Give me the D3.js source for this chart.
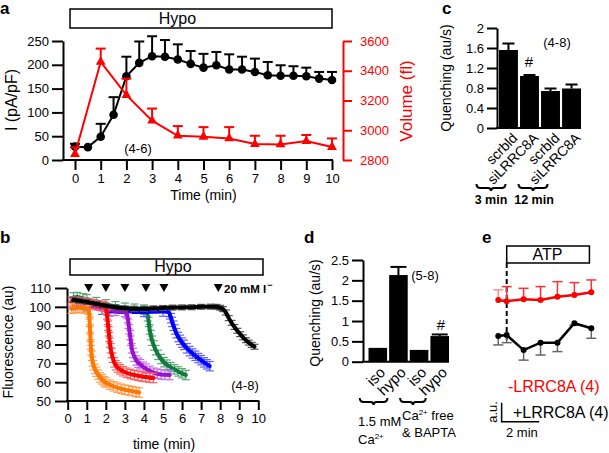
<!DOCTYPE html>
<html><head><meta charset="utf-8">
<script src="https://cdn.jsdelivr.net/npm/d3@7"></script>
<style>
body{margin:0;background:#fff;}
svg{display:block;font-family:"Liberation Sans",Arial,Helvetica,sans-serif;}
</style></head><body>
<svg id="fig" width="609" height="453"></svg>
<script>
// ---------- Panel a data ----------
const timeA = [0,0.5,1,1.5,2,2.5,3,3.5,4,4.5,5,5.5,6,6.5,7,7.5,8,8.5,9,9.5,10];
const currentA = [28,27,49,95,176,204,218,217,211,202,194,199,190,190,185,178,177,177,176,171,168];
const currentErrA = [6,0,27,37,41,45,42,35,32,27,29,28,32,27,28,28,22,20,18,14,17];
const volTimeA = [0,1,2,3,4,5,6,7,8,9,10];
const volumeA = [2840,3459,3236,3064,2963,2956,2945,2907,2905,2927,2887];
const volumeErrA = [45,90,111,82,65,65,76,56,58,41,58];
const currentTicksA = [0,50,100,150,200,250];
const volumeTicksA = [2800,3000,3200,3400,3600];
const timeTicksA = [0,1,2,3,4,5,6,7,8,9,10];

// ---------- Panel b data ----------
const orangeT = [0.2,0.3,0.4,0.5,0.6,0.7,0.8,0.9,1.0,1.05,1.1,1.13,1.15,1.17,1.19,1.21,1.23,1.26,1.3,1.35,1.42,1.5,1.6,1.7,1.8,1.9,2.0,2.2,2.4,2.6,2.8,3.0,3.2,3.4,3.6,3.75];
const orangeV = [99,99.2,99.4,99.5,99.5,99.4,99.3,99.2,99,98.8,98.5,96,92,88,84,80,77,74,71,69,67,65.5,64,62.5,61.5,60.5,59.8,58.7,57.8,57.1,56.5,56,55.6,55.2,54.8,54.5];
const redT = [0.2,0.4,0.6,0.8,1.0,1.2,1.4,1.6,1.8,1.95,2.02,2.06,2.09,2.12,2.15,2.18,2.21,2.25,2.3,2.36,2.44,2.52,2.62,2.75,2.9,3.1,3.3,3.5,3.7,3.9,4.1,4.3,4.5];
const redV = [102.8,102.7,102.5,102.3,102,101.6,101.2,100.8,100.4,100,98.5,96,93,90,87,84,81,78,75.5,73,70.5,69,67.8,66.8,65.8,65,64.3,63.8,63.4,63,62.7,62.4,62.2];
const purpleT = [0.3,1.0,2.0,2.5,3.0,3.1,3.15,3.19,3.23,3.27,3.31,3.36,3.42,3.5,3.6,3.7,3.8,3.95,4.1,4.3,4.5,4.7,4.9,5.1,5.35];
const purpleV = [101,100,98.5,97.8,97.3,96.5,94,91,88,85,82,78,75.5,73.5,71.5,70.3,69.5,68.2,67.2,66,65,64.5,64.1,63.9,63.8];
const greenT = [0.3,0.5,0.8,1.0,1.5,2.0,2.5,3.0,3.5,4.0,4.15,4.2,4.25,4.3,4.36,4.43,4.52,4.62,4.75,4.9,5.05,5.2,5.4,5.6,5.8,6.0,6.2];
const greenV = [105,105.2,104.5,104,102.5,101.3,100.3,99.5,99,98.5,97.5,95,92,88,85,82,79.5,77,74.5,72.3,70.6,69.3,68,66.8,65.7,64.7,63.8];
const blueT = [0.3,1.0,1.8,2.2,3.0,4.0,5.0,5.3,5.36,5.42,5.48,5.55,5.62,5.7,5.8,5.9,6.0,6.1,6.25,6.4,6.55,6.7,6.85,7.0,7.15,7.3,7.45];
const blueV = [102,100.5,98.5,97.6,97.3,97.3,97.5,97.3,96,94,92,90,88,86,84,82.5,81,79.8,78,76.5,75.2,74,72.8,71.7,70.5,69.5,68.5];
const blackT = [0.3,0.6,1.0,1.5,2.0,2.5,3.0,3.5,4.0,4.5,5.0,5.5,6.0,6.5,7.0,7.5,7.8,8.0,8.15,8.3,8.45,8.6,8.75,8.9,9.05,9.2,9.35,9.5,9.65,9.8];
const blackV = [103.8,103.2,102.6,101.6,100.6,99.8,99.2,99,99,99.2,99.4,99.6,99.7,99.8,100,100.1,100,99.5,98.8,97,94,91.5,89.3,87.3,85.5,83.8,82.3,81,79.8,78.8];
const curveErrB = [2.5,2.5,2.5,2.5,2.5,1.3];
const iodideTimesB = [1.1,2.0,3.0,4.1,5.05,7.9];
const fluorTicksB = [50,60,70,80,90,100,110];
const timeTicksB = [0,1,2,3,4,5,6,7,8,9,10];

// ---------- Panel c data ----------
const catsC = ["scrbld","siLRRC8A","scrbld ","siLRRC8A "];
const quenchC = [1.56,1.04,0.74,0.79];
const quenchErrC = [0.13,0.02,0.05,0.08];
const ticksC = [0,0.4,0.8,1.2,1.6,2];

// ---------- Panel d data ----------
const catsD = ["iso","hypo","iso ","hypo "];
const quenchD = [0.34,2.13,0.29,0.63];
const quenchErrD = [0.02,0.2,0.01,0.04];
const ticksD = [0,0.5,1,1.5,2,2.5];

// ---------- Panel e data ----------
const timeE = [-0.45,0,0.9,1.8,2.7,3.6,4.5];
const minusE = [6.41,6.34,6.44,6.41,6.58,6.67,6.81];
const minusErrE = [0.53,0.77,0.58,0.70,0.79,0.65,0.65];
const plusE = [4.51,4.56,3.77,4.16,4.16,5.18,4.92];
const plusErrE = [0.47,0.40,0.53,0.65,0.47,0.1,0.53];

const svg = d3.select("#fig");
svg.append("rect").attr("width",609).attr("height",453).attr("fill","#fff");
const FONT = '"Liberation Sans",Arial,Helvetica,sans-serif';

function styleAxis(g, color, size){
  g.attr("font-size", size||13).attr("font-family", FONT).attr("color", color||"#000");
  g.selectAll(".domain").attr("stroke-width",2);
  g.selectAll(".tick line").attr("stroke-width",2);
  return g;
}
function label(g,x,y,txt,opt){
  opt = opt||{};
  const t = g.append("text").attr("x",x).attr("y",y).text(txt)
    .attr("font-size",opt.size||13).attr("fill",opt.fill||"#000")
    .attr("text-anchor",opt.anchor||"start");
  if(opt.bold) t.attr("font-weight","bold");
  if(opt.rot!==undefined) t.attr("transform",`rotate(${opt.rot},${x},${y})`);
  return t;
}
function brace(g,x0,x1,y){
  const m=(x0+x1)/2;
  g.append("path").attr("fill","none").attr("stroke","#000").attr("stroke-width",2)
   .attr("d",`M${x0},${y-4} Q${x0},${y} ${x0+4},${y} L${m-3},${y} Q${m},${y} ${m},${y+3} Q${m},${y} ${m+3},${y} L${x1-4},${y} Q${x1},${y} ${x1},${y-4}`);
}
const fmt = d => String(d);

// ================= Panel a =================
{
const g = svg.append("g");
const xA = d3.scaleLinear().domain([0,10]).range([75,332]);
const yA = d3.scaleLinear().domain([0,250]).range([160,41]);
const yV = d3.scaleLinear().domain([2800,3600]).range([160,41]);
label(g,0,14,"a",{bold:true,size:17});
g.append("rect").attr("x",70).attr("y",9).attr("width",262).attr("height",19).attr("fill","#fff").attr("stroke","#000").attr("stroke-width",1.5);
label(g,177.5,24,"Hypo",{size:16,anchor:"middle"});

styleAxis(g.append("g").attr("transform","translate(63,0)")
  .call(d3.axisLeft(yA).tickValues(currentTicksA).tickFormat(fmt).tickSize(11).tickPadding(3).tickSizeOuter(0)));
const xg = styleAxis(g.append("g").attr("transform","translate(0,160)")
  .call(d3.axisBottom(xA).tickValues(timeTicksA).tickFormat(fmt).tickSize(10).tickPadding(4).tickSizeOuter(0)));
xg.select(".domain").remove();
g.append("line").attr("x1",62).attr("x2",xA(10)+1).attr("y1",160).attr("y2",160).attr("stroke","#000").attr("stroke-width",2);
styleAxis(g.append("g").attr("transform","translate(343,0)")
  .call(d3.axisRight(yV).tickValues(volumeTicksA).tickFormat(fmt).tickSize(9).tickPadding(8).tickSizeOuter(0)),"#f00");

label(g,17,100,"I (pA/pF)",{size:16,anchor:"middle",rot:-90});
label(g,412,101,"Volume (fl)",{size:17,anchor:"middle",rot:-90,fill:"#f00"});
label(g,203.5,200,"Time (min)",{size:14,anchor:"middle"});
label(g,138,153,"(4-6)",{size:13,anchor:"middle"});

// black current series
const cur = timeA.map((t,i)=>({t,v:currentA[i],e:currentErrA[i]}));
const eb = g.append("g").attr("stroke","#000").attr("stroke-width",2);
cur.forEach(d=>{ if(d.e>0){
  eb.append("line").attr("x1",xA(d.t)).attr("x2",xA(d.t)).attr("y1",yA(d.v)).attr("y2",yA(d.v+d.e));
  eb.append("line").attr("x1",xA(d.t)-5).attr("x2",xA(d.t)+5).attr("y1",yA(d.v+d.e)).attr("y2",yA(d.v+d.e));
}});
g.append("path").datum(cur).attr("fill","none").attr("stroke","#000").attr("stroke-width",2)
  .attr("d",d3.line().x(d=>xA(d.t)).y(d=>yA(d.v)));
g.selectAll(".cdot").data(cur).join("circle").attr("cx",d=>xA(d.t)).attr("cy",d=>yA(d.v)).attr("r",4.3).attr("fill","#000");

// red volume series
const vol = volTimeA.map((t,i)=>({t,v:volumeA[i],e:volumeErrA[i]}));
const rb = g.append("g").attr("stroke","#f00").attr("stroke-width",2);
vol.forEach(d=>{
  rb.append("line").attr("x1",xA(d.t)).attr("x2",xA(d.t)).attr("y1",yV(d.v)).attr("y2",yV(d.v+d.e));
  rb.append("line").attr("x1",xA(d.t)-5).attr("x2",xA(d.t)+5).attr("y1",yV(d.v+d.e)).attr("y2",yV(d.v+d.e));
});
g.append("path").datum(vol).attr("fill","none").attr("stroke","#f00").attr("stroke-width",2)
  .attr("d",d3.line().x(d=>xA(d.t)).y(d=>yV(d.v)));
g.selectAll(".vtri").data(vol).join("path").attr("fill","#f00")
  .attr("transform",d=>`translate(${xA(d.t)},${yV(d.v)})`)
  .attr("d",d3.symbol(d3.symbolTriangle,42));
}

// ================= Panel b =================
{
const g = svg.append("g");
const xB = d3.scaleLinear().domain([0,10]).range([67.7,258.3]);
const yB = d3.scaleLinear().domain([50,110]).range([401,288]);
label(g,0,243,"b",{bold:true,size:17});
g.append("rect").attr("x",70).attr("y",259).attr("width",193).attr("height",16).attr("fill","#fff").attr("stroke","#000").attr("stroke-width",1.5);
label(g,173,272,"Hypo",{size:16,anchor:"middle"});

styleAxis(g.append("g").attr("transform","translate(67,0)")
  .call(d3.axisLeft(yB).tickValues(fluorTicksB).tickFormat(fmt).tickSize(12).tickPadding(4).tickSizeOuter(0)));
const xg = styleAxis(g.append("g").attr("transform","translate(0,401)")
  .call(d3.axisBottom(xB).tickValues(timeTicksB).tickFormat(fmt).tickSize(9).tickPadding(4).tickSizeOuter(0)));
xg.select(".domain").remove();
g.append("line").attr("x1",66).attr("x2",xB(10)+1).attr("y1",401).attr("y2",401).attr("stroke","#000").attr("stroke-width",2);

label(g,13,342,"Fluorescence (au)",{size:14,anchor:"middle",rot:-90});
label(g,164,449,"time (min)",{size:14,anchor:"middle"});
label(g,245,390,"(4-8)",{size:13,anchor:"middle"});

// arrowheads
iodideTimesB.forEach(t=>{
  const x=xB(t);
  g.append("path").attr("d",`M${x-4.5},${284}L${x+4.5},${284}L${x},${292}Z`).attr("fill","#000");
});
const io = label(g,224,293,"20 mM I",{size:11.5,bold:true});
io.append("tspan").attr("dx",1).attr("dy",-5).attr("font-size",9).text("−");

const series = [
  {t:orangeT,v:orangeV,c:"#ff7700",l:"#ffa050"},
  {t:redT,v:redV,c:"#ff0000",l:"#ff6060"},
  {t:purpleT,v:purpleV,c:"#9a10d0",l:"#c070e8"},
  {t:greenT,v:greenV,c:"#137a3e",l:"#5aa878"},
  {t:blueT,v:blueV,c:"#0000ff",l:"#6060ff"},
  {t:blackT,v:blackV,c:"#000000",l:"#555555"}
];
const order = [3,4,2,1,0,5];
order.forEach(k=>{
  const s = series[k], e = curveErrB[k];
  const pts = s.t.map((t,i)=>({t,v:s.v[i]}));
  const sg = g.append("g");
  const eg = sg.append("g").attr("stroke",s.l).attr("stroke-width",1.2);
  pts.forEach(d=>{
    const x=xB(d.t), y0=yB(d.v-e), y1=yB(d.v+e);
    eg.append("line").attr("x1",x).attr("x2",x).attr("y1",y0).attr("y2",y1);
    eg.append("line").attr("x1",x-4).attr("x2",x+4).attr("y1",y0).attr("y2",y0);
    eg.append("line").attr("x1",x-4).attr("x2",x+4).attr("y1",y1).attr("y2",y1);
  });
  sg.append("path").datum(pts).attr("fill","none").attr("stroke",s.c).attr("stroke-width",4)
    .attr("stroke-linejoin","round").attr("stroke-linecap","round")
    .attr("d",d3.line().x(d=>xB(d.t)).y(d=>yB(d.v)).curve(d3.curveMonotoneX));
});
}

// ================= Panel c =================
{
const g = svg.append("g");
const yC = d3.scaleLinear().domain([0,2]).range([128,28]);
const xC = d3.scaleBand().domain(catsC).range([499,581]).paddingInner(0.1).paddingOuter(0);
label(g,442,14,"c",{bold:true,size:17});
styleAxis(g.append("g").attr("transform","translate(497,0)")
  .call(d3.axisLeft(yC).tickValues(ticksC).tickFormat(fmt).tickSize(10).tickPadding(3).tickSizeOuter(0)));
g.append("line").attr("x1",496).attr("x2",581).attr("y1",128).attr("y2",128).attr("stroke","#000").attr("stroke-width",2);
label(g,451,78,"Quenching (au/s)",{size:14,anchor:"middle",rot:-90});
const bw = xC.bandwidth();
catsC.forEach((c,i)=>{
  const x=xC(c), v=quenchC[i], e=quenchErrC[i], cx=x+bw/2;
  g.append("rect").attr("x",x).attr("y",yC(v)).attr("width",bw).attr("height",yC(0)-yC(v)).attr("fill","#000");
  g.append("line").attr("x1",cx).attr("x2",cx).attr("y1",yC(v)).attr("y2",yC(v+e)).attr("stroke","#000").attr("stroke-width",2);
  g.append("line").attr("x1",cx-6).attr("x2",cx+6).attr("y1",yC(v+e)).attr("y2",yC(v+e)).attr("stroke","#000").attr("stroke-width",2);
  label(g,cx+3,132,c.trim(),{size:14,anchor:"end",rot:-45}).attr("dy","0.7em");
});
label(g,529,67,"#",{size:15,anchor:"middle"});
label(g,557,47,"(4-8)",{size:13,anchor:"middle"});
const c0=xC(catsC[0])+bw/2, c1=xC(catsC[1])+bw/2, c2=xC(catsC[2])+bw/2, c3=xC(catsC[3])+bw/2;
brace(g,c0-32,c1-24,188);
brace(g,c2-32,c3-24,188);
label(g,(c0+c1)/2-28,204,"3 min",{size:12.5,bold:true,anchor:"middle"});
label(g,(c2+c3)/2-27,204,"12 min",{size:12.5,bold:true,anchor:"middle"});
}

// ================= Panel d =================
{
const g = svg.append("g");
const yD = d3.scaleLinear().domain([0,2.5]).range([361.7,260]);
const xD = d3.scaleBand().domain(catsD).range([368.5,449]).paddingInner(0.1).paddingOuter(0);
label(g,304,243,"d",{bold:true,size:17});
styleAxis(g.append("g").attr("transform","translate(363,0)")
  .call(d3.axisLeft(yD).tickValues(ticksD).tickFormat(fmt).tickSize(11).tickPadding(3).tickSizeOuter(0)));
g.append("line").attr("x1",362).attr("x2",449).attr("y1",361.7).attr("y2",361.7).attr("stroke","#000").attr("stroke-width",2);
label(g,320,313,"Quenching (au/s)",{size:14,anchor:"middle",rot:-90});
const bw = xD.bandwidth();
catsD.forEach((c,i)=>{
  const x=xD(c), v=quenchD[i], e=quenchErrD[i], cx=x+bw/2;
  g.append("rect").attr("x",x).attr("y",yD(v)).attr("width",bw).attr("height",yD(0)-yD(v)).attr("fill","#000");
  if(e>0.03){
    g.append("line").attr("x1",cx).attr("x2",cx).attr("y1",yD(v)).attr("y2",yD(v+e)).attr("stroke","#000").attr("stroke-width",2);
    g.append("line").attr("x1",cx-8).attr("x2",cx+8).attr("y1",yD(v+e)).attr("y2",yD(v+e)).attr("stroke","#000").attr("stroke-width",2);
  }
  label(g,cx+1,366,c.trim(),{size:15,anchor:"end",rot:-45}).attr("dy","0.7em");
});
label(g,425,280,"(5-8)",{size:13,anchor:"middle"});
label(g,441,330,"#",{size:15,anchor:"middle"});
const c0=xD(catsD[0])+bw/2, c1=xD(catsD[1])+bw/2, c2=xD(catsD[2])+bw/2, c3=xD(catsD[3])+bw/2;
brace(g,c0-18,c1-11,402);
brace(g,c2-19,c3-14,402);
label(g,358,426,"1.5 mM",{size:13});
const t1 = label(g,358,444,"Ca",{size:13});
t1.append("tspan").attr("dy",-5).attr("font-size",8).text("2+");
const t2 = label(g,402,420,"Ca",{size:13});
t2.append("tspan").attr("dy",-5).attr("font-size",8).text("2+");
t2.append("tspan").attr("dy",5).text(" free");
label(g,402,437,"& BAPTA",{size:13});
}

// ================= Panel e =================
{
const g = svg.append("g");
const xE = d3.scaleLinear().domain([0,1]).range([506.7,525.5]);
const yE = d3.scaleLinear().domain([0,1]).range([421.7,402.7]);
label(g,482,243,"e",{bold:true,size:17});
g.append("rect").attr("x",xE(0)).attr("y",246).attr("width",xE(4.4)-xE(0)).attr("height",17).attr("fill","#fff").attr("stroke","#000").attr("stroke-width",1.5);
label(g,547.5,260,"ATP",{size:16,anchor:"middle"});
g.append("line").attr("x1",xE(0)).attr("x2",xE(0)).attr("y1",263).attr("y2",343).attr("stroke","#000").attr("stroke-width",2).attr("stroke-dasharray","5,3");

const red = timeE.map((t,i)=>({t,v:minusE[i],e:minusErrE[i]}));
const blk = timeE.map((t,i)=>({t,v:plusE[i],e:plusErrE[i]}));
red.forEach((d,i)=>{
  const x=xE(d.t), y0=yE(d.v), y1=yE(d.v+d.e);
  const col = i===0?"#ff9090":"#ff3030";
  g.append("line").attr("x1",x).attr("x2",x).attr("y1",y0).attr("y2",y1).attr("stroke",col).attr("stroke-width",1.5);
  g.append("line").attr("x1",x-5).attr("x2",x+5).attr("y1",y1).attr("y2",y1).attr("stroke",col).attr("stroke-width",1.5);
});
blk.forEach(d=>{
  const x=xE(d.t), y0=yE(d.v), y1=yE(d.v-d.e);
  g.append("line").attr("x1",x).attr("x2",x).attr("y1",y0).attr("y2",y1).attr("stroke","#666").attr("stroke-width",1.5);
  g.append("line").attr("x1",x-5).attr("x2",x+5).attr("y1",y1).attr("y2",y1).attr("stroke","#666").attr("stroke-width",1.5);
});
g.append("path").datum(red).attr("fill","none").attr("stroke","#f00").attr("stroke-width",2.5)
  .attr("d",d3.line().x(d=>xE(d.t)).y(d=>yE(d.v)));
g.selectAll(".rd").data(red).join("circle").attr("cx",d=>xE(d.t)).attr("cy",d=>yE(d.v)).attr("r",3).attr("fill","#f00");
g.append("path").datum(blk).attr("fill","none").attr("stroke","#000").attr("stroke-width",2.5)
  .attr("d",d3.line().x(d=>xE(d.t)).y(d=>yE(d.v)));
g.selectAll(".bd").data(blk).join("circle").attr("cx",d=>xE(d.t)).attr("cy",d=>yE(d.v)).attr("r",3).attr("fill","#000");

label(g,508,392,"-LRRC8A (4)",{size:16,fill:"#f00"});
label(g,513,418,"+LRRC8A (4)",{size:16});
// scale bar
const sx = xE(-0.27), sy = yE(0);
g.append("path").attr("fill","none").attr("stroke","#000").attr("stroke-width",1.5)
  .attr("d",`M${sx},${yE(1)}V${sy}H${sx+xE(2)-xE(0)}`);
label(g,497,412,"a.u.",{size:13,anchor:"middle",rot:-90});
label(g,506,437,"2 min",{size:13});
}
</script>
</body></html>
